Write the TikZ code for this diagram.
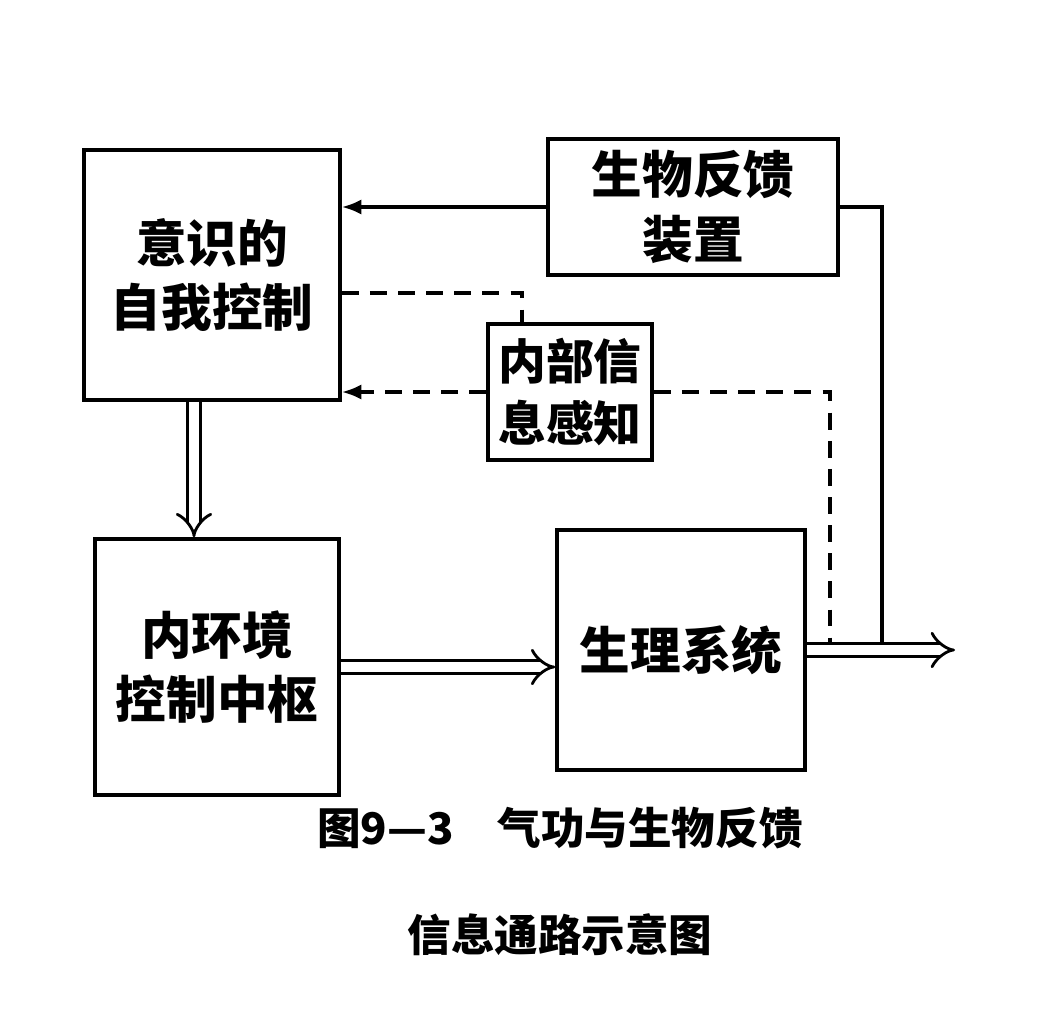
\documentclass[tikz,border=0pt]{standalone}
\usepackage{fontspec}
\setmainfont{Noto Sans CJK SC}
\usetikzlibrary{arrows.meta}
\begin{document}
\begin{tikzpicture}
	[x=0.025cm,y=-0.025cm,
	box/.style={draw,line width=2.5pt,align=center,inner sep=0pt,font=\fontsize{36}{46}\selectfont\bfseries},
	sline/.style={line width=2.5pt},
	dline/.style={line width=2.5pt,dash pattern=on 12pt off 8pt},
	dbl/.style={double,double distance=7pt,line width=2pt,-{Implies}},
	>={Latex[length=14pt,width=11pt]}]
	\useasboundingbox (0,0) rectangle (1056,1030);
	\node[box,name=A,minimum width=6.4cm,minimum height=6.25cm]at(212,275){意识的\\自我控制};
	\node[box,name=B,minimum width=7.25cm,minimum height=3.4cm]at(693,207){生物反馈\\装置};
	\node[box,name=C,minimum width=4.1cm,minimum height=3.4cm,font=\fontsize{34}{44}\selectfont\bfseries]at(570,392){内部信\\息感知};
	\node[box,name=D,minimum width=6.1cm,minimum height=6.4cm]at(217,667){内环境\\控制中枢};
	\node[box,name=E,minimum width=6.2cm,minimum height=6cm]at(681,650){生理系统};
	\coordinate (out) at (955,650);
	\coordinate (tap1) at (882,650);
	\coordinate (tap2) at (830,650);
	\draw[->,sline] (B.west) -- (B.west -| A.east);
	\draw[sline] (B.east) -| (tap1);
	\draw[dline] (A.east) ++(0,18) -| ([xshift=-1.2cm]C.north);
	\draw[->,dline] (C.west) -- (C.west -| A.east);
	\draw[dline] (C.east) -| (tap2);
	\draw[dbl] ([xshift=-0.45cm]A.south) -- ([xshift=-0.45cm]A.south |- D.north);
	\draw[dbl] (D.east) -- (D.east -| E.west);
	\draw[dbl] (E.east) -- (out);
	\node[name=cap1,font=\fontsize{31}{38}\selectfont\bfseries]at(560,828){图9—3\quad 气功与生物反馈};
	\node[name=cap2,font=\fontsize{31}{38}\selectfont\bfseries]at(560,935){信息通路示意图};
\end{tikzpicture}
\end{document}
